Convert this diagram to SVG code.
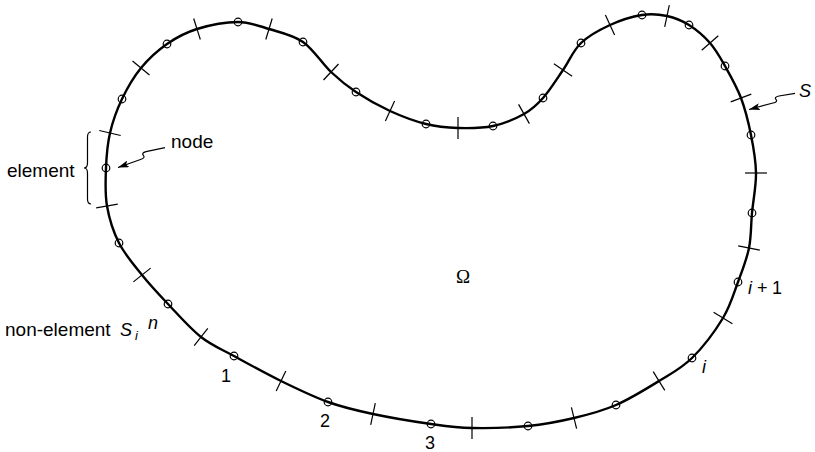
<svg xmlns="http://www.w3.org/2000/svg" width="815" height="452" viewBox="0 0 815 452">
<style>
.curve{fill:none;stroke:#000;stroke-width:2.4;stroke-linejoin:round}
.tick{stroke:#000;stroke-width:1.2;fill:none}
.node{fill:none;stroke:#000;stroke-width:1.2}
.thin{fill:none;stroke:#000;stroke-width:1.2}
.lbl{font-family:"Liberation Sans",Arial,sans-serif;font-size:19px;fill:#000}
.it{font-style:italic}
</style>
<defs>
<marker id="arr" viewBox="0 0 11 7" refX="11" refY="3.5" markerWidth="11" markerHeight="7" markerUnits="userSpaceOnUse" orient="auto">
<path d="M0,0 L11,3.5 L0,7 L2.5,3.5 Z" fill="#000"/>
</marker>
</defs>
<rect width="815" height="452" fill="#fff"/>
<g id="boundary">
<path class="curve" d="M106,168 C106.5,155.83 107.33,144.5 110,133 C112.67,121.5 116.83,109.83 122,99 C127.17,88.17 133.5,77.17 141,68 C148.5,58.83 157.67,50.5 167,44 C176.33,37.5 185.17,32.67 197,29 C208.83,25.33 226,22 238,22 C250,22 258.17,25.67 269,29 C279.83,32.33 292.67,34.83 303,42 C313.33,49.17 322.17,63.67 331,72 C339.83,80.33 346.17,85.5 356,92 C365.83,98.5 378.33,105.67 390,111 C401.67,116.33 414.67,121.17 426,124 C437.33,126.83 446.83,127.67 458,128 C469.17,128.33 482,128.33 493,126 C504,123.67 515.67,118.67 524,114 C532.33,109.33 536.5,105.33 543,98 C549.5,90.67 556.67,79.17 563,70 C569.33,60.83 573.17,50.5 581,43 C588.83,35.5 599.83,29.67 610,25 C620.17,20.33 632.5,16.5 642,15 C651.5,13.5 659.17,14.33 667,16 C674.83,17.67 681.83,20.5 689,25 C696.17,29.5 704,36.17 710,43 C716,49.83 719.83,56.83 725,66 C730.17,75.17 736.67,86.5 741,98 C745.33,109.5 748.5,122.5 751,135 C753.5,147.5 755.83,160 756,173 C756.17,186 753.17,200.5 752,213 C750.83,225.5 751.33,236.5 749,248 C746.67,259.5 742.33,270.33 738,282 C733.67,293.67 730.67,305.33 723,318 C715.33,330.67 702.67,347.5 692,358 C681.33,368.5 671.67,373.17 659,381 C646.33,388.83 630.17,398.83 616,405 C601.83,411.17 588.67,414.5 574,418 C559.33,421.5 545,424.33 528,426 C511,427.67 488.17,428.33 472,428 C455.83,427.67 447.5,426.33 431,424 C414.5,421.67 390.17,417.67 373,414 C355.83,410.33 343.33,407.5 328,402 C312.67,396.5 296.67,388.67 281,381 C265.33,373.33 247.33,363.33 234,356 C220.67,348.67 212,345.67 201,337 C190,328.33 177.83,314.33 168,304 C158.17,293.67 150.17,285.17 142,275 C133.83,264.83 124.83,254.5 119,243 C113.17,231.5 109.17,218.5 107,206 C104.83,193.5 105.5,180.17 106,168 Z"/>
</g>
<g id="ticks" class="tick">
<line x1="99.3" y1="130.5" x2="120.7" y2="135.5"/>
<line x1="132.5" y1="61" x2="149.5" y2="75"/>
<line x1="193.7" y1="18.5" x2="200.3" y2="39.5"/>
<line x1="272.2" y1="18.5" x2="265.8" y2="39.5"/>
<line x1="338.5" y1="64" x2="323.5" y2="80"/>
<line x1="394.6" y1="101" x2="385.4" y2="121"/>
<line x1="458" y1="117" x2="458" y2="139"/>
<line x1="518.6" y1="104.4" x2="529.4" y2="123.6"/>
<line x1="553.9" y1="63.7" x2="572.1" y2="76.3"/>
<line x1="605.4" y1="15" x2="614.6" y2="35"/>
<line x1="669.3" y1="5.2" x2="664.7" y2="26.8"/>
<line x1="718.3" y1="35.7" x2="701.7" y2="50.3"/>
<line x1="751.3" y1="94.1" x2="730.7" y2="101.9"/>
<line x1="767" y1="173" x2="745" y2="173"/>
<line x1="759.8" y1="250.2" x2="738.2" y2="245.8"/>
<line x1="732.4" y1="323.7" x2="713.6" y2="312.3"/>
<line x1="664.8" y1="390.4" x2="653.2" y2="371.6"/>
<line x1="576.6" y1="428.7" x2="571.4" y2="407.3"/>
<line x1="472" y1="417" x2="472" y2="439"/>
<line x1="375.3" y1="403.2" x2="370.7" y2="424.8"/>
<line x1="285.8" y1="371.1" x2="276.2" y2="390.9"/>
<line x1="207.8" y1="328.4" x2="194.2" y2="345.6"/>
<line x1="150.6" y1="268.1" x2="133.4" y2="281.9"/>
<line x1="117.8" y1="204.1" x2="96.2" y2="207.9"/>
</g>
<g id="nodes" class="node">
<circle id="n0" cx="106" cy="168" r="3.8"/>
<circle id="n1" cx="122" cy="99" r="3.8"/>
<circle id="n2" cx="167" cy="44" r="3.8"/>
<circle id="n3" cx="238" cy="22" r="3.8"/>
<circle id="n4" cx="303" cy="42" r="3.8"/>
<circle id="n5" cx="356" cy="92" r="3.8"/>
<circle id="n6" cx="426" cy="124" r="3.8"/>
<circle id="n7" cx="493" cy="126" r="3.8"/>
<circle id="n8" cx="543" cy="98" r="3.8"/>
<circle id="n9" cx="581" cy="43" r="3.8"/>
<circle id="n10" cx="642" cy="15" r="3.8"/>
<circle id="n11" cx="689" cy="25" r="3.8"/>
<circle id="n12" cx="725" cy="66" r="3.8"/>
<circle id="n13" cx="751" cy="135" r="3.8"/>
<circle id="n14" cx="752" cy="213" r="3.8"/>
<circle id="n15" cx="738" cy="282" r="3.8"/>
<circle id="n16" cx="692" cy="358" r="3.8"/>
<circle id="n17" cx="616" cy="405" r="3.8"/>
<circle id="n18" cx="528" cy="426" r="3.8"/>
<circle id="n19" cx="431" cy="424" r="3.8"/>
<circle id="n20" cx="328" cy="402" r="3.8"/>
<circle id="n21" cx="234" cy="356" r="3.8"/>
<circle id="n22" cx="168" cy="304" r="3.8"/>
<circle id="n23" cx="119" cy="243" r="3.8"/>
</g>
<g id="connectors">
<path class="thin" d="M91,132 Q87.5,132 87.5,137 L87.5,163 Q87.5,168 84,168 Q87.5,168 87.5,173 L87.5,199 Q87.5,204 91,204"/>
<path class="thin" marker-end="url(#arr)" d="M165,147.7 L146,151.7 Q141,153 143.5,155.5 Q145.5,158 140.5,159.5 L118,167.5"/>
<path class="thin" marker-end="url(#arr)" d="M795,93.3 L779,96 Q774,97 776,99.5 Q778,102 773,103 L749,109.5"/>
</g>
<g id="labels" class="lbl">
<text x="7" y="177">element</text>
<text x="171" y="148">node</text>
<text x="5" y="336">non-element</text>
<text x="120" y="336" class="it" font-size="18">S</text>
<text x="135" y="340" class="it" font-size="13">i</text>
<text x="148" y="329" class="it" font-size="18">n</text>
<text x="799" y="97" class="it" font-size="18">S</text>
<text x="226" y="382" font-size="18" text-anchor="middle">1</text>
<text x="325" y="427" font-size="18" text-anchor="middle">2</text>
<text x="430" y="449" font-size="18" text-anchor="middle">3</text>
<text x="702" y="373" class="it" font-size="18">i</text>
<text x="748" y="294" class="it" font-size="18">i</text>
<text x="757" y="294" font-size="18">+</text>
<text x="772" y="294" font-size="18">1</text>
<text x="463" y="283" text-anchor="middle" style="font-family:'Liberation Serif','Times New Roman',serif" font-size="19">Ω</text>
</g>
</svg>
